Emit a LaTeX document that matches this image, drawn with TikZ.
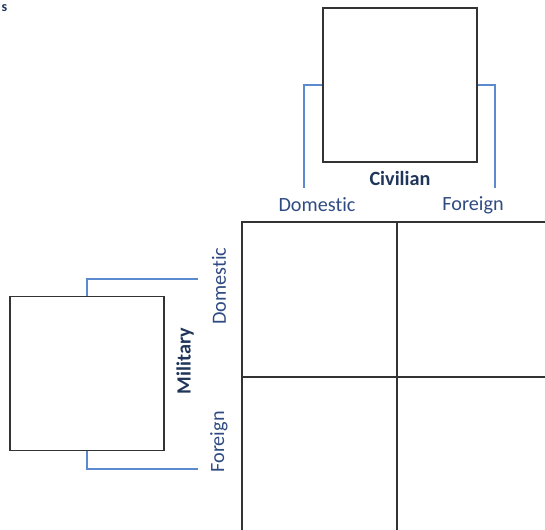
\documentclass[tikz,border=0pt]{standalone}
\usepackage{fontspec}
\setmainfont[RawFeature={-liga;-dlig}]{Carlito}
\usepackage{tikz}
\usetikzlibrary{calc}
\definecolor{brk}{RGB}{91,139,206}
\definecolor{lbl}{RGB}{47,75,130}
\definecolor{ttl}{RGB}{31,53,90}
\begin{document}
\begin{tikzpicture}[x=0.02cm,y=-0.02cm,thick,
  box/.style={draw=black!80,line width=1.1pt,minimum width=3.08cm,minimum height=3.08cm,inner sep=0pt},
  brack/.style={draw=brk,line width=0.8pt},
  lab/.style={text=lbl,font=\fontsize{11.5}{14}\selectfont,inner sep=0pt},
  head/.style={text=ttl,font=\fontsize{11.5}{14}\selectfont\bfseries,inner sep=0pt}]
\useasboundingbox (0,0) rectangle (545,529);
\clip (0,0) rectangle (545,529);
\node[head,anchor=base west,font=\fontsize{8}{10}\selectfont\bfseries] (s) at (1,11) {s};
% civilian box and its brackets
\node[box] (civ) at (400,85) {};
\coordinate (cdl) at (304,188);
\coordinate (cdr) at (495,188);
\draw[brack] (civ.west) -| (cdl);
\draw[brack] (civ.east) -| (cdr);
\node[head] (civl) at (400,178) {Civilian};
\node[lab] (cdom) at (317,205) {Domestic};
\node[lab] (cfor) at (473,205) {Foreign};
% military box and its brackets
\node[box] (mil) at (87,373.5) {};
\coordinate (mdt) at (198,279);
\coordinate (mfb) at (198,469);
\draw[brack] (mil.north) |- (mdt);
\draw[brack] (mil.south) |- (mfb);
\node[head,rotate=90] (mill) at (185,361) {Military};
\node[lab,rotate=90] (mdom) at (219,286) {Domestic};
\node[lab,rotate=90] (mfor) at (219,442) {Foreign};
% the grid
\draw[black!80,line width=1.1pt] (242,560)--(242,222)--(560,222);
\draw[black!80,line width=1.1pt] (397,222)--(397,560);
\draw[black!80,line width=1.1pt] (242,377)--(560,377);
\end{tikzpicture}
\end{document}
